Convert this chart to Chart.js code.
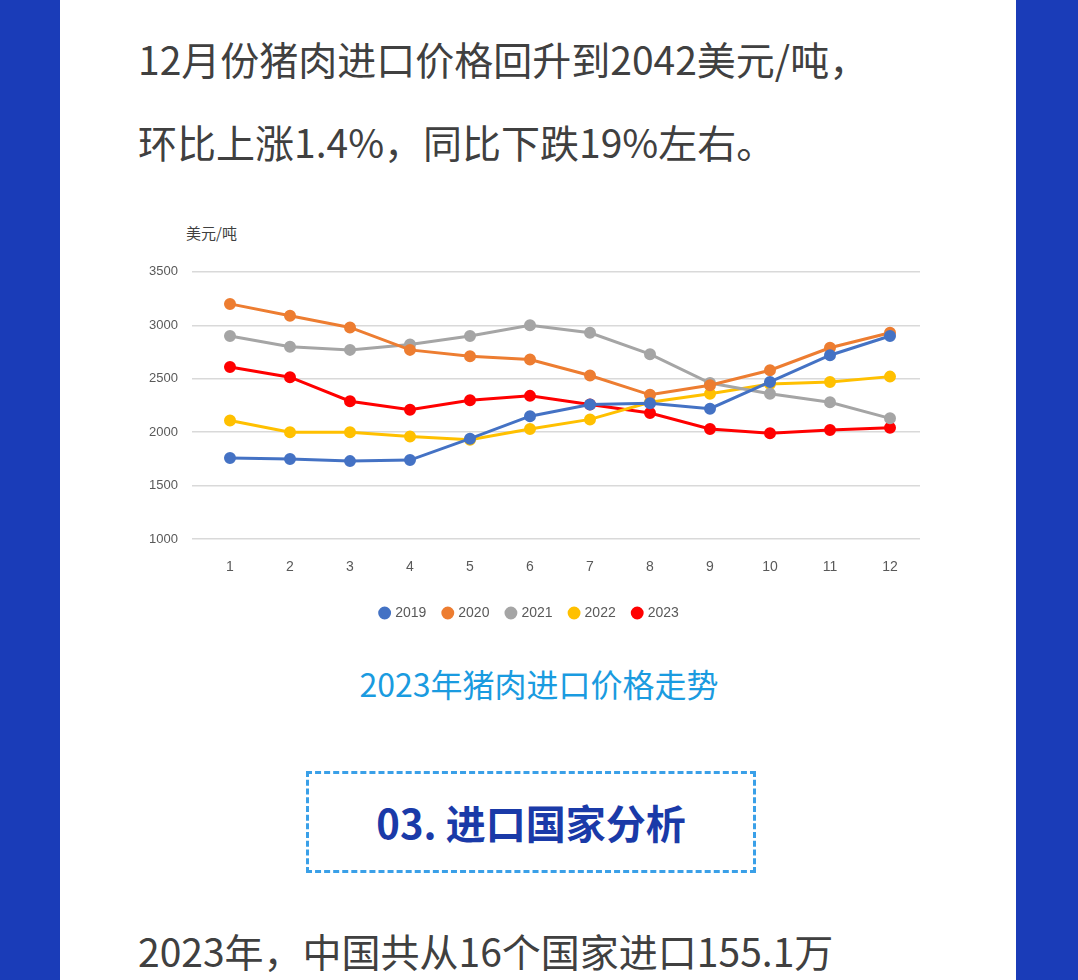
<!DOCTYPE html>
<html>
<head>
<meta charset="utf-8">
<script src="https://cdn.jsdelivr.net/npm/chart.js@4"></script>
<style>
  body { margin: 0; width: 1078px; height: 980px; background: #fff; overflow: hidden; position: relative;
         font-family: "Noto Sans CJK SC", "Noto Sans", sans-serif; }
  .band { position: absolute; top: 0; width: 60px; height: 980px; background: #1a3cb8; }
  .txt { position: absolute; left: 138px; color: #404040; font-size: 39px; white-space: nowrap; }
  #wrap { position: absolute; left: 140px; top: 250px; width: 800px; height: 380px; }
  .unit { position: absolute; left: 186px; top: 222px; font-size: 15px; color: #404040; }
  .cap { position: absolute; left: 0; width: 1078px; top: 660px; text-align: center; color: #1a9be0; font-size: 32px; }
  .box { position: absolute; left: 306px; top: 771px; width: 444px; height: 96px; border: 3px dashed #3aa0e8;
         color: #1a3aa8; font-size: 40px; font-weight: bold; text-align: center; line-height: 96px; }
</style>
</head>
<body>
<div class="band" style="left:0"></div>
<div class="band" style="left:1016px;width:62px"></div>
<div class="txt" style="top:30px">12月份猪肉进口价格回升到2042美元/吨，</div>
<div class="txt" style="top:113px">环比上涨1.4%，同比下跌19%左右。</div>
<div class="unit">美元/吨</div>
<div id="wrap"><canvas id="priceChart"></canvas></div>
<div class="cap">2023年猪肉进口价格走势</div>
<div class="box">03. 进口国家分析</div>
<div class="txt" style="top:922px">2023年，中国共从16个国家进口155.1万</div>
<script>
const months = ["1","2","3","4","5","6","7","8","9","10","11","12"];
const y2019 = [1760,1750,1730,1740,1940,2150,2260,2270,2220,2470,2720,2900];
const y2020 = [3200,3090,2980,2770,2710,2680,2530,2350,2440,2580,2790,2930];
const y2021 = [2900,2800,2770,2820,2900,3000,2930,2730,2460,2360,2280,2130];
const y2022 = [2110,2000,2000,1960,1930,2030,2120,2280,2360,2450,2470,2520];
const y2023 = [2610,2515,2290,2210,2300,2340,2260,2180,2030,1990,2020,2042];
const seriesNames = ["2019","2020","2021","2022","2023"];
const seriesColors = ["#4472c4","#ed7d31","#a5a5a5","#ffc000","#ff0000"];

const seriesData = [y2019, y2020, y2021, y2022, y2023];

new Chart(document.getElementById("priceChart"), {
    type: "line",
    data: {
        labels: months,
        datasets: seriesData.map((d, i) => ({
            label: seriesNames[i],
            data: d,
            borderColor: seriesColors[i],
            backgroundColor: seriesColors[i],
            borderWidth: 3,
            pointRadius: 4.5,
            pointHoverRadius: 4.5,
            tension: 0
        }))
    },
    options: {
        responsive: true,
        maintainAspectRatio: false,
        animation: false,
        layout: { padding: { top: 7, right: 20, left: 0, bottom: 0 } },
        plugins: {
            legend: {
                position: "bottom",
                labels: { usePointStyle: true, pointStyle: "circle", boxWidth: 7, boxHeight: 7,
                          color: "#595959", font: { size: 14 }, padding: 18 }
            },
            tooltip: { enabled: false }
        },
        scales: {
            x: {
                offset: true,
                grid: { display: false },
                border: { display: false },
                ticks: { color: "#595959", font: { size: 14 }, padding: 12 }
            },
            y: {
                min: 1000, max: 3500,
                ticks: { stepSize: 500, color: "#595959", font: { size: 13 }, padding: 14,
                         callback: v => String(v) },
                grid: { color: "#d9d9d9", lineWidth: 1.5 },
                border: { display: false },
                afterFit: s => { s.width = 60; }
            }
        }
    }
});
</script>
</body>
</html>
